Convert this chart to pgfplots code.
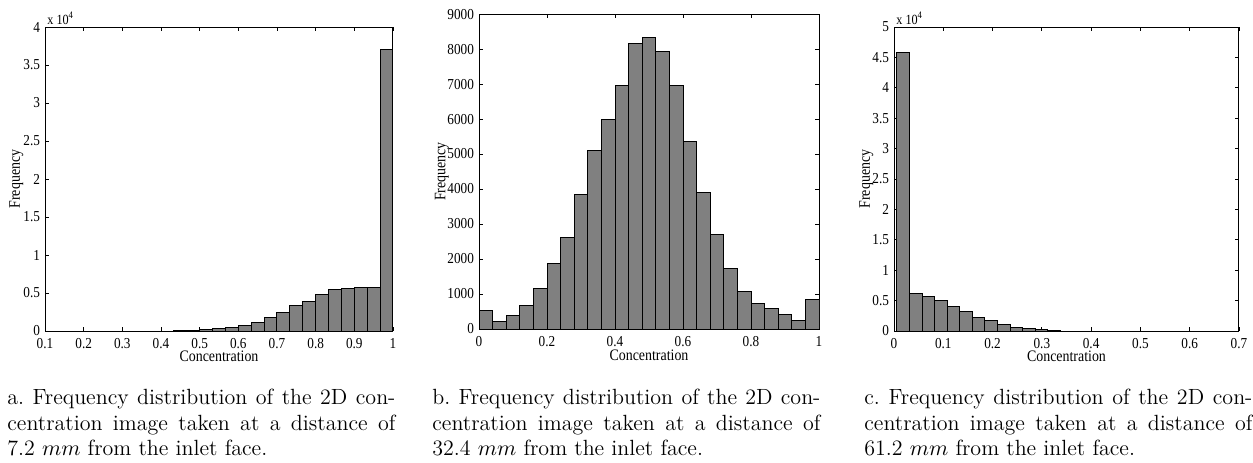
\documentclass[border=0pt]{standalone}
\usepackage{fontspec}
\newfontfamily\tnr[FakeStretch=0.87]{Liberation Serif}
\usepackage{pgfplots}
\pgfplotsset{compat=1.18}

\pgfplotsset{
  histo/.style={
    scale only axis,
    clip mode=individual,
    axis line style={line width=0.5pt},
    tick align=inside,
    major tick length=2pt,
    tick style={line width=0.4pt, black},
    ymin=0,
    scaled y ticks=false,
    ticklabel style={font=\tnr\fontsize{7.6}{8}\selectfont},
    yticklabel style={xshift=1pt},
    /pgf/number format/assume math mode=true,
    /pgf/number format/1000 sep={},
    label style={font=\tnr\fontsize{8}{9}\selectfont},
    xlabel={Concentration},
    ylabel={Frequency},
  },
  bars/.style={ybar interval, fill=gray, draw=black, line width=0.5pt},
}

\begin{document}
\begin{tikzpicture}
\path[use as bounding box] (0,0) rectangle (626.5pt,-231pt);

% panel a
\begin{axis}[histo,
  at={(22.5pt,-165.5pt)}, anchor=south west,
  width=174pt, height=152pt,
  xmin=0.1, xmax=1, ymax=40000,
  xtick={0.1,0.2,...,1.0},
  ytick={0,5000,...,40000},
  yticklabels={0,0.5,1,1.5,2,2.5,3,3.5,4},
  xlabel style={at={(axis description cs:0.5,-0.083)}, anchor=center},
  ylabel style={at={(axis description cs:-0.082,0.5)}, anchor=center},
]
\addplot[bars] coordinates {
  (0.16667,0) (0.2,0) (0.23333,0) (0.26667,0) (0.3,0) (0.33333,0)
  (0.36667,0) (0.4,0) (0.43333,40) (0.46667,80) (0.5,150) (0.53333,300)
  (0.56667,480) (0.6,790) (0.63333,1180) (0.66667,1750) (0.7,2500)
  (0.73333,3330) (0.76667,3860) (0.8,4780) (0.83333,5440) (0.86667,5570)
  (0.9,5750) (0.93333,5700) (0.96667,37000) (1.0,37000)
};
\node[anchor=south west, inner sep=1pt, font=\tnr\fontsize{7}{8}\selectfont]
  at (rel axis cs:0,1) {x 10\textsuperscript{4}};
\end{axis}

% panel b
\begin{axis}[histo,
  at={(239.5pt,-164.5pt)}, anchor=south west,
  width=170pt, height=157.5pt,
  xmin=0, xmax=1, ymax=9000,
  xtick={0,0.2,...,1.0},
  ytick={0,1000,...,9000},
  xlabel style={at={(axis description cs:0.5,-0.083)}, anchor=center},
  ylabel style={at={(axis description cs:-0.109,0.5)}, anchor=center},
]
\addplot[bars] coordinates {
  (0,520) (0.04,220) (0.08,400) (0.12,665) (0.16,1170) (0.2,1880)
  (0.24,2615) (0.28,3850) (0.32,5110) (0.36,5990) (0.4,6960) (0.44,8170)
  (0.48,8340) (0.52,7920) (0.56,6950) (0.6,5355) (0.64,3890) (0.68,2700)
  (0.72,1740) (0.76,1075) (0.8,740) (0.84,590) (0.88,420) (0.92,230)
  (0.96,855) (1.0,855)
};
\end{axis}

% panel c
\begin{axis}[histo,
  at={(447pt,-165.5pt)}, anchor=south west,
  width=172.5pt, height=152pt,
  xmin=0, xmax=0.7, ymax=50000,
  xtick={0,0.1,...,0.7},
  ytick={0,5000,...,50000},
  yticklabels={0,0.5,1,1.5,2,2.5,3,3.5,4,4.5,5},
  xlabel style={at={(axis description cs:0.5,-0.083)}, anchor=center},
  ylabel style={at={(axis description cs:-0.080,0.5)}, anchor=center},
]
\addplot[bars] coordinates {
  (0.006,45800) (0.0315,6250) (0.057,5700) (0.0825,5000) (0.108,4100)
  (0.1335,3250) (0.159,2300) (0.1845,1700) (0.21,1100) (0.2355,650)
  (0.261,380) (0.2865,200) (0.312,100) (0.3375,0) (0.363,0)
  (0.3885,0) (0.414,0) (0.4395,0) (0.465,0) (0.4905,0) (0.516,0)
  (0.5415,0) (0.567,0) (0.5925,0) (0.618,0) (0.6435,0)
};
\node[anchor=south west, inner sep=1pt, font=\tnr\fontsize{7}{8}\selectfont]
  at (rel axis cs:0,1) {x 10\textsuperscript{4}};
\end{axis}

% captions
\tikzset{capt/.style={anchor=north west, inner sep=0pt, text width=194pt,
  align=justify, font=\fontsize{11}{12.6}\selectfont\frenchspacing}}
\node[capt] at (3.5pt,-194.5pt) {a. Frequency distribution of the 2D con-\linebreak
  centration image taken at a distance of\linebreak 7.2 $mm$ from the inlet face.};
\node[capt] at (216pt,-194.5pt) {b. Frequency distribution of the 2D con-\linebreak
  centration image taken at a distance of\linebreak 32.4 $mm$ from the inlet face.};
\node[capt] at (432pt,-194.5pt) {c. Frequency distribution of the 2D con-\linebreak
  centration image taken at a distance of\linebreak 61.2 $mm$ from the inlet face.};
\end{tikzpicture}
\end{document}
